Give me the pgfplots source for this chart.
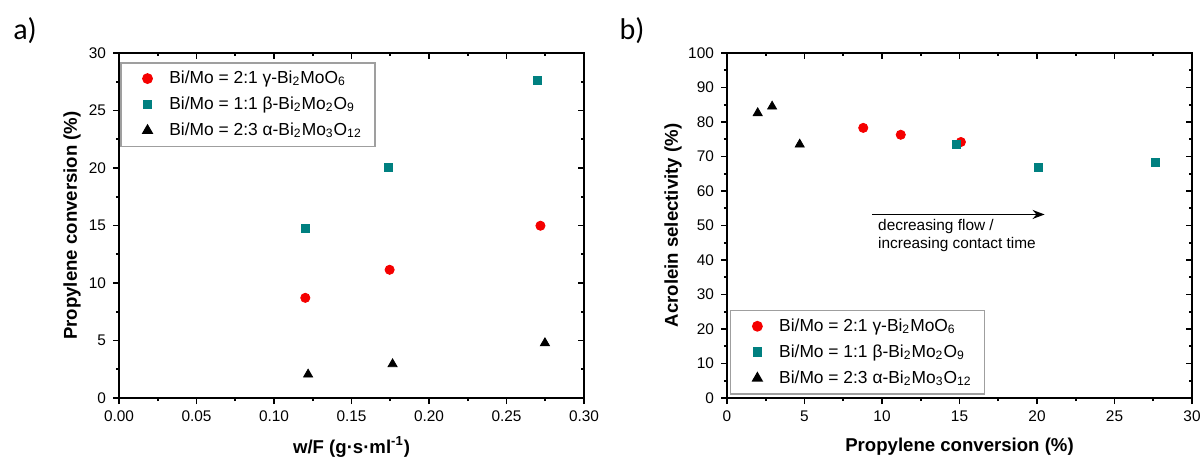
\documentclass[border=0pt]{standalone}
\usepackage{pgfplots}
\pgfplotsset{compat=1.18}
\usetikzlibrary{arrows.meta}
\usepackage{fontspec}
\setmainfont{Liberation Sans}
\newfontfamily\carlito{Carlito}

\definecolor{redpt}{RGB}{245,0,0}
\definecolor{tealpt}{RGB}{0,128,128}

\newcommand{\lblfont}{\bfseries\fontsize{9.3}{10}\selectfont}

\pgfplotsset{
  panel/.style={
    width=232.5pt, height=172.5pt, scale only axis,
    axis line style={line width=0.9pt},
    tick align=outside, xtick pos=left, ytick pos=left,
    major tick length=3pt, minor tick length=1.6pt,
    every tick/.style={line width=0.8pt, black},
    minor x tick num=1, minor y tick num=1,
    /pgf/number format/assume math mode=true,
    tick label style={font=\fontsize{7.7}{9}\selectfont},
    legend cell align=left,
  },
  mirror/.style={
    width=232.5pt, height=172.5pt, scale only axis,
    axis line style={draw=none},
    tick align=inside, xtick pos=right, ytick pos=right,
    major tick length=3pt, minor tick length=1.6pt,
    every tick/.style={line width=0.8pt, black},
    minor x tick num=1, minor y tick num=1,
    xticklabels={}, yticklabels={},
  },
  lgd/.style={
    draw=gray!75, line width=0.8pt, fill=white,
    font=\fontsize{8.7}{10}\selectfont,
    row sep=1.2pt, inner xsep=4.5pt, inner ysep=2pt,
  },
  legend image code/.code={
    \path (0pt,0pt) (17pt,0pt);
    \draw[#1] plot coordinates {(8.5pt,0pt)};
  },
  ser1/.style={only marks, mark=*, mark size=2.3pt, mark options={fill=redpt, draw=redpt}},
  ser2/.style={only marks, mark=square*, mark size=2pt, mark options={fill=tealpt, draw=tealpt}},
  ser3/.style={only marks, mark=triangle*, mark size=2.6pt, mark options={fill=black, draw=black}},
}

\begin{document}
\begin{tikzpicture}
\useasboundingbox (-59.5pt,-29.5pt) rectangle (540.5pt,199pt);

% a) conversion vs contact time
\begin{axis}[panel,
  xmin=0, xmax=0.3, ymin=0, ymax=30,
  xtick={0,0.05,...,0.3}, ytick={0,5,...,30},
  xticklabel style={/pgf/number format/.cd, fixed, fixed zerofill, precision=2},
  xlabel={w/F (g·s·ml\textsuperscript{-1})},
  ylabel={Propylene conversion (\%)},
  every axis x label/.style={at={(axis description cs:0.5,-0.142)}, anchor=center, font=\lblfont},
  every axis y label/.style={at={(axis description cs:-0.101,0.5)}, anchor=center, rotate=90, font=\lblfont},
  legend style={lgd, at={(rel axis cs:0.002,0.974)}, anchor=north west},
]
\addplot[ser1] coordinates {(0.1202,8.71) (0.1746,11.15) (0.2719,14.98)};
\addlegendentry{Bi/Mo = 2:1 γ-Bi\textsubscript{2}MoO\textsubscript{6}}
\addplot[ser2] coordinates {(0.1200,14.72) (0.1736,20.09) (0.2700,27.58)};
\addlegendentry{Bi/Mo = 1:1 β-Bi\textsubscript{2}Mo\textsubscript{2}O\textsubscript{9}}
\addplot[ser3] coordinates {(0.1220,2.05) (0.1765,2.95) (0.2748,4.78)};
\addlegendentry{Bi/Mo = 2:3 α-Bi\textsubscript{2}Mo\textsubscript{3}O\textsubscript{12}}
\end{axis}
\begin{axis}[mirror, xmin=0, xmax=0.3, ymin=0, ymax=30,
  xtick={0,0.05,...,0.3}, ytick={0,5,...,30}]
\end{axis}

% b) selectivity vs conversion
\begin{axis}[panel, xshift=304pt,
  xmin=0, xmax=30, ymin=0, ymax=100,
  xtick={0,5,...,30}, ytick={0,10,...,100},
  xlabel={Propylene conversion (\%)},
  ylabel={Acrolein selectivity (\%)},
  every axis x label/.style={at={(axis description cs:0.5,-0.142)}, anchor=center, font=\lblfont},
  every axis y label/.style={at={(axis description cs:-0.116,0.5)}, anchor=center, rotate=90, font=\lblfont},
  legend style={lgd, at={(rel axis cs:0.006,0.009)}, anchor=south west},
]
\addplot[ser1] coordinates {(8.79,78.3) (11.21,76.3) (15.09,74.2)};
\addlegendentry{Bi/Mo = 2:1 γ-Bi\textsubscript{2}MoO\textsubscript{6}}
\addplot[ser2] coordinates {(14.81,73.6) (20.12,66.8) (27.65,68.3)};
\addlegendentry{Bi/Mo = 1:1 β-Bi\textsubscript{2}Mo\textsubscript{2}O\textsubscript{9}}
\addplot[ser3] coordinates {(1.98,82.6) (2.91,84.5) (4.69,73.5)};
\addlegendentry{Bi/Mo = 2:3 α-Bi\textsubscript{2}Mo\textsubscript{3}O\textsubscript{12}}
\draw[-{Stealth[length=6pt,width=4.5pt]}, line width=0.8pt] (axis cs:9.36,53.2) -- (axis cs:20.49,53.2);
\node[anchor=west, inner sep=0pt, align=left, font=\fontsize{7.7}{9}\selectfont]
  at (axis cs:9.73,47.1) {decreasing flow /\\increasing contact time};
\end{axis}
\begin{axis}[mirror, xshift=304pt, xmin=0, xmax=30, ymin=0, ymax=100,
  xtick={0,5,...,30}, ytick={0,10,...,100}]
\end{axis}

\node[font=\carlito\fontsize{15}{17}\selectfont] at (-47pt,183.5pt) {a)};
\node[font=\carlito\fontsize{15}{17}\selectfont] at (256.5pt,183.5pt) {b)};
\end{tikzpicture}
\end{document}
